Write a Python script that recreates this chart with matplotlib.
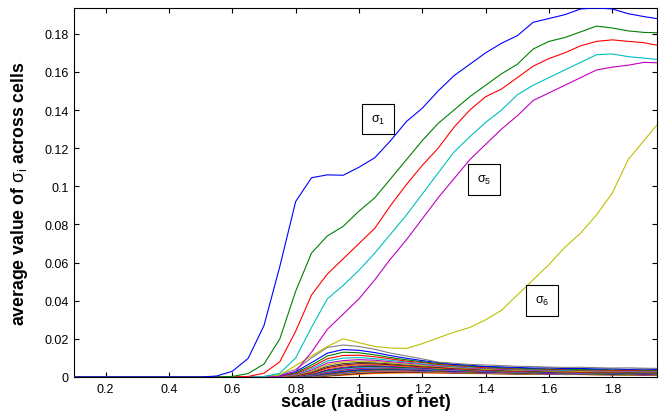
import matplotlib
matplotlib.use('Agg')
import matplotlib.pyplot as plt

plt.rcParams['font.family'] = ['Liberation Sans', 'DejaVu Sans']
plt.rcParams['mathtext.fontset'] = 'custom'
plt.rcParams['mathtext.rm'] = 'Liberation Sans'
plt.rcParams['mathtext.it'] = 'Liberation Sans'
plt.rcParams['mathtext.bf'] = 'Liberation Sans:bold'

# scale grid of the six leading curves
x_main = [0.10, 0.15, 0.20, 0.25, 0.30, 0.35, 0.40, 0.45, 0.50, 0.55,
          0.60, 0.65, 0.70, 0.75, 0.80, 0.85, 0.90, 0.95, 1.00, 1.05,
          1.10, 1.15, 1.20, 1.25, 1.30, 1.35, 1.40, 1.45, 1.50, 1.55,
          1.60, 1.65, 1.70, 1.75, 1.80, 1.85, 1.90, 1.95]

sigma1 = [0, 0, 0, 0, 0, 0, 0, 0, 0,
          0.0005, 0.003, 0.0098, 0.027, 0.058, 0.092, 0.1045, 0.106, 0.1058, 0.110,
          0.115, 0.124, 0.134, 0.141, 0.150, 0.158, 0.164, 0.170, 0.175, 0.179,
          0.186, 0.188, 0.190, 0.193, 0.1935, 0.193, 0.1905, 0.189, 0.1877]
sigma2 = [0, 0, 0, 0, 0, 0, 0, 0, 0,
          0, 0.0003, 0.0018, 0.0068, 0.020, 0.045, 0.065, 0.074, 0.079, 0.087,
          0.094, 0.104, 0.114, 0.124, 0.133, 0.140, 0.147, 0.153, 0.159, 0.164,
          0.172, 0.176, 0.178, 0.181, 0.184, 0.183, 0.1815, 0.1807, 0.1805]
sigma3 = [0, 0, 0, 0, 0, 0, 0, 0, 0,
          0, 0, 0.0003, 0.002, 0.008, 0.024, 0.043, 0.054, 0.062, 0.070,
          0.078, 0.090, 0.101, 0.111, 0.120, 0.131, 0.140, 0.147, 0.151, 0.157,
          0.163, 0.167, 0.170, 0.1737, 0.176, 0.1768, 0.176, 0.1753, 0.1737]
sigma4 = [0, 0, 0, 0, 0, 0, 0, 0, 0,
          0, 0, 0, 0.0002, 0.002, 0.010, 0.026, 0.041, 0.048, 0.056,
          0.065, 0.075, 0.085, 0.096, 0.107, 0.118, 0.126, 0.1335, 0.140, 0.148,
          0.153, 0.157, 0.161, 0.165, 0.169, 0.1694, 0.168, 0.1672, 0.1664]
sigma5 = [0, 0, 0, 0, 0, 0, 0, 0, 0,
          0, 0, 0, 0, 0.0003, 0.003, 0.013, 0.025, 0.033, 0.041,
          0.051, 0.062, 0.072, 0.083, 0.094, 0.104, 0.114, 0.122, 0.130, 0.137,
          0.145, 0.149, 0.153, 0.157, 0.161, 0.1625, 0.1635, 0.165, 0.1647]
sigma6 = [0, 0, 0, 0, 0, 0, 0, 0, 0,
          0, 0, 0, 0, 0.001, 0.006, 0.011, 0.016, 0.020, 0.018,
          0.016, 0.0152, 0.015, 0.0175, 0.0205, 0.0235, 0.026, 0.030, 0.035, 0.043,
          0.051, 0.059, 0.068, 0.0755, 0.085, 0.0965, 0.114, 0.124, 0.134]

# the remaining small singular values (in units of 1e-3)
x_low = [0.10, 0.60, 0.65, 0.70, 0.75, 0.80, 0.85, 0.90, 0.95, 1.00,
         1.05, 1.10, 1.15, 1.20, 1.25, 1.30, 1.35, 1.40, 1.45, 1.50,
         1.55, 1.60, 1.65, 1.70, 1.75, 1.80, 1.85, 1.90, 1.95]
low_sigmas_milli = [
    [0, 0, 0, 0.3, 1.2, 4.0, 10.0, 15.5, 16.8, 16.0, 14.5, 12.5, 11.0, 9.5, 7.8, 7.2, 6.6, 6.3, 6.0, 5.6, 5.5, 5.2, 5.0, 5.1, 4.9, 4.7, 4.8, 4.6, 4.5],
    [0, 0, 0, 0.2, 0.8, 2.8, 7.5, 12.5, 14.4, 14.0, 12.8, 11.2, 9.8, 8.6, 7.6, 6.6, 6.2, 5.5, 5.3, 5.0, 4.7, 4.8, 4.4, 4.5, 4.2, 4.3, 4.0, 4.2, 3.9],
    [0, 0, 0, 0.1, 0.6, 2.2, 6.2, 11.0, 13.0, 12.7, 11.6, 10.2, 9.0, 8.0, 7.1, 6.5, 5.7, 5.4, 4.8, 4.7, 4.3, 4.2, 4.2, 3.8, 4.0, 3.7, 3.9, 3.6, 3.7],
    [0, 0, 0, 0.1, 0.5, 1.8, 5.2, 9.6, 11.3, 11.4, 10.6, 9.5, 8.3, 7.6, 6.6, 6.0, 5.5, 4.8, 4.7, 4.2, 4.3, 3.9, 3.9, 3.6, 3.7, 3.4, 3.5, 3.4, 3.3],
    [0, 0, 0, 0, 0.4, 1.5, 4.4, 8.4, 9.9, 10.2, 9.6, 8.7, 7.9, 6.9, 6.3, 5.5, 5.2, 4.6, 4.4, 4.0, 3.8, 3.8, 3.5, 3.5, 3.3, 3.4, 3.2, 3.3, 3.1],
    [0, 0, 0, 0, 0.3, 1.2, 3.6, 7.3, 8.6, 9.1, 8.8, 8.0, 7.3, 6.6, 5.8, 5.4, 4.7, 4.5, 4.0, 3.9, 3.5, 3.6, 3.3, 3.4, 3.1, 3.2, 3.0, 3.1, 2.9],
    [0, 0, 0, 0, 0.2, 1.0, 3.0, 6.4, 7.8, 8.3, 8.1, 7.4, 6.8, 6.0, 5.6, 4.9, 4.6, 4.0, 3.9, 3.5, 3.5, 3.1, 3.2, 2.9, 3.0, 2.8, 2.9, 2.7, 2.8],
    [0, 0, 0, 0, 0.2, 0.8, 2.6, 5.6, 7.0, 7.6, 7.4, 6.9, 6.2, 5.8, 5.1, 4.8, 4.2, 4.0, 3.5, 3.5, 3.1, 3.2, 2.8, 3.0, 2.7, 2.8, 2.6, 2.7, 2.5],
    [0, 0, 0, 0, 0.1, 0.7, 2.2, 4.9, 6.3, 7.0, 6.9, 6.4, 6.0, 5.3, 5.0, 4.4, 4.2, 3.6, 3.5, 3.1, 3.1, 2.8, 2.9, 2.6, 2.7, 2.5, 2.6, 2.4, 2.5],
    [0, 0, 0, 0, 0.1, 0.6, 1.9, 4.3, 5.7, 6.4, 6.4, 6.1, 5.5, 5.2, 4.6, 4.4, 3.8, 3.7, 3.2, 3.2, 2.8, 2.9, 2.6, 2.7, 2.4, 2.5, 2.3, 2.4, 2.2],
    [0, 0, 0, 0, 0.1, 0.5, 1.6, 3.8, 5.1, 5.9, 6.0, 5.6, 5.4, 4.7, 4.6, 3.9, 3.9, 3.3, 3.3, 2.9, 2.9, 2.5, 2.7, 2.4, 2.5, 2.2, 2.3, 2.1, 2.2],
    [0, 0, 0, 0, 0, 0.4, 1.4, 3.4, 4.7, 5.4, 5.6, 5.3, 4.9, 4.7, 4.1, 4.0, 3.4, 3.4, 2.9, 3.0, 2.6, 2.6, 2.3, 2.4, 2.1, 2.2, 2.0, 2.1, 1.9],
    [0, 0, 0, 0, 0, 0.3, 1.2, 3.0, 4.2, 5.0, 5.2, 5.1, 4.6, 4.3, 4.0, 3.6, 3.5, 3.0, 3.0, 2.6, 2.7, 2.3, 2.4, 2.1, 2.2, 2.0, 2.1, 1.9, 2.0],
    [0, 0, 0, 0, 0, 0.3, 1.0, 2.6, 3.8, 4.6, 4.9, 4.7, 4.5, 4.0, 3.9, 3.3, 3.2, 2.8, 2.7, 2.5, 2.4, 2.2, 2.2, 2.0, 2.0, 1.8, 1.9, 1.7, 1.8],
    [0, 0, 0, 0, 0, 0.2, 0.9, 2.3, 3.5, 4.3, 4.6, 4.5, 4.2, 4.0, 3.6, 3.4, 3.0, 2.9, 2.5, 2.6, 2.2, 2.3, 2.0, 2.1, 1.8, 1.9, 1.7, 1.8, 1.6],
    [0, 0, 0, 0, 0, 0.2, 0.8, 2.0, 3.1, 3.9, 4.3, 4.3, 4.0, 3.7, 3.5, 3.1, 3.0, 2.6, 2.6, 2.3, 2.3, 2.0, 2.1, 1.8, 1.9, 1.7, 1.8, 1.6, 1.7],
    [0, 0, 0, 0, 0, 0.1, 0.7, 1.7, 2.8, 3.6, 4.0, 4.0, 3.9, 3.5, 3.3, 3.0, 2.8, 2.5, 2.4, 2.1, 2.2, 1.9, 1.9, 1.7, 1.7, 1.5, 1.6, 1.5, 1.5],
    [0, 0, 0, 0, 0, 0.1, 0.6, 1.5, 2.5, 3.3, 3.7, 3.8, 3.6, 3.4, 3.1, 2.8, 2.7, 2.3, 2.3, 2.0, 2.0, 1.8, 1.8, 1.6, 1.6, 1.5, 1.5, 1.4, 1.4],
    [0, 0, 0, 0, 0, 0.1, 0.5, 1.3, 2.2, 3.0, 3.4, 3.5, 3.4, 3.2, 3.0, 2.7, 2.5, 2.3, 2.1, 2.0, 1.8, 1.8, 1.6, 1.6, 1.4, 1.5, 1.3, 1.4, 1.3],
    [0, 0, 0, 0, 0, 0, 0.4, 1.1, 1.9, 2.7, 3.1, 3.2, 3.2, 2.9, 2.8, 2.5, 2.4, 2.1, 2.1, 1.8, 1.8, 1.6, 1.6, 1.4, 1.5, 1.3, 1.4, 1.2, 1.3],
    [0, 0, 0, 0, 0, 0, 0.3, 0.9, 1.7, 2.4, 2.8, 3.0, 3.0, 2.8, 2.6, 2.4, 2.2, 2.1, 1.9, 1.8, 1.6, 1.6, 1.5, 1.4, 1.4, 1.3, 1.2, 1.3, 1.1],
    [0, 0, 0, 0, 0, 0, 0.2, 0.7, 1.4, 2.1, 2.5, 2.7, 2.7, 2.6, 2.5, 2.2, 2.2, 1.9, 1.9, 1.6, 1.7, 1.4, 1.5, 1.3, 1.3, 1.2, 1.2, 1.1, 1.1],
    [0, 0, 0, 0, 0, 0, 0.2, 0.6, 1.2, 1.8, 2.2, 2.4, 2.5, 2.4, 2.3, 2.2, 2.0, 1.9, 1.7, 1.7, 1.5, 1.5, 1.3, 1.4, 1.2, 1.2, 1.1, 1.1, 1.0],
    [0, 0, 0, 0, 0, 0, 0.1, 0.4, 0.9, 1.4, 1.8, 2.0, 2.1, 2.1, 2.0, 1.9, 1.8, 1.7, 1.6, 1.5, 1.4, 1.4, 1.3, 1.3, 1.2, 1.1, 1.1, 1.0, 1.0],
]

main_colors = ['#0000ff', '#008000', '#ff0000', '#00bfbf', '#bf00bf', '#bfbf00']
low_colors = ['#808080', '#0000ff', '#008000', '#ff0000', '#00bfbf', '#bf00bf',
              '#bfbf00', '#404040', '#990000', '#ff8000', '#6600cc', '#006600',
              '#3399ff', '#cc0066']

x_ticks = [0.2, 0.4, 0.6, 0.8, 1.0, 1.2, 1.4, 1.6, 1.8]
x_tick_labels = ['0.2', '0.4', '0.6', '0.8', '1', '1.2', '1.4', '1.6', '1.8']
y_ticks = [0, 0.02, 0.04, 0.06, 0.08, 0.1, 0.12, 0.14, 0.16, 0.18]
y_tick_labels = ['0', '0.02', '0.04', '0.06', '0.08', '0.1', '0.12', '0.14', '0.16', '0.18']

# label boxes: text, x, y
box_labels = [(r'$\mathrm{\sigma_1}$', 1.059, 0.1353),
              (r'$\mathrm{\sigma_5}$', 1.396, 0.1037),
              (r'$\mathrm{\sigma_6}$', 1.578, 0.0402)]

fig = plt.figure(figsize=(6.6, 4.14), dpi=100)
ax = fig.add_axes([74 / 660, 36 / 414, 583 / 660, 369 / 414])

# lowest ones first so the big curves stay on top
for i in range(len(low_sigmas_milli) - 1, -1, -1):
    vals = [v / 1000.0 for v in low_sigmas_milli[i]]
    ax.plot(x_low, vals, color=low_colors[i % len(low_colors)], lw=0.8, zorder=3)

for ys, c in zip([sigma6, sigma5, sigma4, sigma3, sigma2, sigma1], main_colors[::-1]):
    ax.plot(x_main, ys, color=c, lw=0.8, zorder=3)

ax.set_xlim(0.1, 1.941)
ax.set_ylim(0, 0.1935)
ax.set_xticks(x_ticks)
ax.set_xticklabels(x_tick_labels)
ax.set_yticks(y_ticks)
ax.set_yticklabels(y_tick_labels)
ax.tick_params(direction='in', length=3.5, width=0.8, labelsize=9,
               top=True, right=True, colors='black', pad=4)
for sp in ax.spines.values():
    sp.set_linewidth(0.8)

ax.set_xlabel('scale (radius of net)', fontsize=13, fontweight='bold')
ax.set_ylabel(r'average value of $\mathrm{\sigma_i}$ across cells', fontsize=12.7, fontweight='bold')
ax.xaxis.set_label_coords(0.5, -0.044)
ax.yaxis.set_label_coords(-0.076, 0.5)

for txt, bx, by in box_labels:
    ax.text(bx, by, txt, fontsize=9, ha='center', va='center', zorder=5,
            bbox=dict(boxstyle='square,pad=0.7', fc='white', ec='black', lw=0.8))

fig.savefig('out.png', dpi=100)
